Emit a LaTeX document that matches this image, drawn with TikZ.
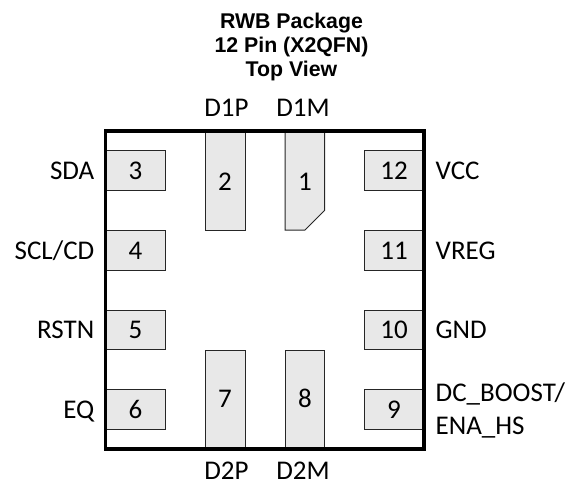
\documentclass[tikz,border=0pt]{standalone}
\usepackage{fontspec}
\setmainfont{Carlito}
\newfontfamily\titlefont[Scale=1]{Liberation Sans}
\tikzset{
  pad/.style={draw=black!85,line width=1pt,fill=black!9},
  padnum/.style={font=\fontsize{27}{27}\selectfont,inner sep=0pt,anchor=base},
  pinlabel/.style={font=\fontsize{27}{27}\selectfont,inner sep=0pt},
}
\begin{document}
\begin{tikzpicture}[x=1pt,y=-1pt]
\useasboundingbox (0,0) rectangle (570,481);
\node[font=\titlefont\bfseries\fontsize{21.3}{24}\selectfont,align=center,inner sep=0pt] (title) at (291.5,46.5) {RWB Package\\12 Pin (X2QFN)\\Top View};
% side pads
\foreach \name/\ytop in {3/151,4/230.5,5/310,6/389.5}{
  \draw[pad] (105.5,\ytop) rectangle (165.5,\ytop+39.5);
  \node[padnum] (pin\name) at (135.5,\ytop+28.5) {\name};
}
\foreach \name/\ytop in {12/151,11/230.5,10/310,9/389.5}{
  \draw[pad] (364,\ytop) rectangle (424,\ytop+39.5);
  \node[padnum] (pin\name) at (394,\ytop+28.5) {\name};
}
% long pads
\draw[pad] (205.5,131) rectangle (245,230);
\draw[pad] (285,131) -- (324.5,131) -- (324.5,210.5) -- (305,230) -- (285,230) -- cycle;
\draw[pad] (205.5,350) rectangle (245,449);
\draw[pad] (285,350) rectangle (324.5,449);
\node[padnum] (pin2) at (225,190) {2};
\node[padnum] (pin1) at (305,190) {1};
\node[padnum] (pin7) at (225,407) {7};
\node[padnum] (pin8) at (305,407) {8};
\draw[line width=3.5pt,miter limit=10] (105.5,131) rectangle (424,449);
% pin names
\node[pinlabel,anchor=base] (d1p) at (226.5,117) {D1P};
\node[pinlabel,anchor=base] (d1m) at (303,117) {D1M};
\node[pinlabel,anchor=base] (d2p) at (226.5,479) {D2P};
\node[pinlabel,anchor=base] (d2m) at (303,479) {D2M};
\node[pinlabel,anchor=base east] (sda) at (94.5,180) {SDA};
\node[pinlabel,anchor=base east] (scl) at (94.5,259.5) {SCL/CD};
\node[pinlabel,anchor=base east] (rstn) at (94.5,338.5) {RSTN};
\node[pinlabel,anchor=base east] (eq) at (94.5,418) {EQ};
\node[pinlabel,anchor=base west] (vcc) at (435.5,180) {VCC};
\node[pinlabel,anchor=base west] (vreg) at (435.5,259.5) {VREG};
\node[pinlabel,anchor=base west] (gnd) at (435.5,338.5) {GND};
\node[pinlabel,anchor=base west] (dcboost) at (435.5,401) {DC\_BOOST/};
\node[pinlabel,anchor=base west] (enahs) at (435.5,434) {ENA\_HS};
\end{tikzpicture}
\end{document}
